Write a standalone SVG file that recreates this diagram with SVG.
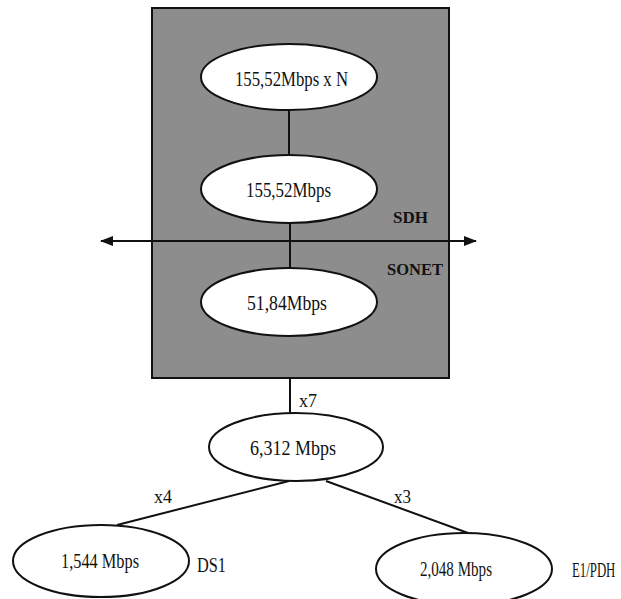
<svg xmlns="http://www.w3.org/2000/svg" width="621" height="599" viewBox="0 0 621 599">
<style>
.n{fill:#fff;stroke:#111;stroke-width:2}
.t{font-family:"Liberation Serif","Times New Roman",serif;font-size:22px;fill:#111}
.s{font-family:"Liberation Serif","Times New Roman",serif;font-size:19px;fill:#111}
.b{font-family:"Liberation Serif","Times New Roman",serif;font-size:17px;font-weight:bold;fill:#111}
.c{stroke:#111;stroke-width:2;fill:none}
</style>
<defs>
<marker id="ah" viewBox="0 0 13 10" refX="12" refY="5" markerWidth="13" markerHeight="10" markerUnits="userSpaceOnUse" orient="auto-start-reverse">
<path d="M0,0 L13,5 L0,10 Z" fill="#111"/>
</marker>
</defs>
<rect id="box" x="152" y="8" width="297" height="370" fill="#8d8d8d" stroke="#111" stroke-width="2"/>
<g id="connectors">
<line class="c" x1="289" y1="110" x2="289" y2="155"/>
<line class="c" x1="290" y1="223" x2="290" y2="268"/>
<line class="c" x1="101" y1="241" x2="476" y2="241" marker-start="url(#ah)" marker-end="url(#ah)"/>
<line class="c" x1="290" y1="378" x2="290" y2="413"/>
<line class="c" x1="289" y1="481" x2="117" y2="525"/>
<line class="c" x1="326" y1="481" x2="468" y2="533"/>
</g>
<g id="n1"><ellipse class="n" cx="289" cy="77" rx="88" ry="33"/><text class="t" x="235" y="86" textLength="113" lengthAdjust="spacingAndGlyphs">155,52Mbps x N</text></g>
<g id="n2"><ellipse class="n" cx="289" cy="189" rx="88" ry="34"/><text class="t" x="246" y="197" textLength="85" lengthAdjust="spacingAndGlyphs">155,52Mbps</text></g>
<g id="n3"><ellipse class="n" cx="289" cy="302" rx="88" ry="34"/><text class="t" x="247" y="310" textLength="80" lengthAdjust="spacingAndGlyphs">51,84Mbps</text></g>
<text class="b" x="393" y="223" textLength="35" lengthAdjust="spacingAndGlyphs">SDH</text>
<text class="b" x="387" y="275" textLength="56" lengthAdjust="spacingAndGlyphs">SONET</text>
<text class="s" x="299" y="407" textLength="18" lengthAdjust="spacingAndGlyphs">x7</text>
<g id="n4"><ellipse class="n" cx="296" cy="447" rx="87" ry="34"/><text class="t" x="250" y="455" textLength="86" lengthAdjust="spacingAndGlyphs">6,312 Mbps</text></g>
<text class="s" x="154" y="503" textLength="18" lengthAdjust="spacingAndGlyphs">x4</text>
<text class="s" x="394" y="503" textLength="17" lengthAdjust="spacingAndGlyphs">x3</text>
<g id="n5"><ellipse class="n" cx="101" cy="561" rx="88" ry="36"/><text class="t" x="61" y="568" textLength="78" lengthAdjust="spacingAndGlyphs">1,544 Mbps</text></g>
<text class="t" x="197" y="572" textLength="29" lengthAdjust="spacingAndGlyphs" style="font-size:20px">DS1</text>
<g id="n6"><ellipse class="n" cx="464" cy="569" rx="88" ry="36"/><text class="t" x="420" y="576" textLength="72" lengthAdjust="spacingAndGlyphs">2,048 Mbps</text></g>
<text class="t" transform="translate(572,577) scale(0.64,1)" x="0" y="0" style="font-size:20px">E1/PDH</text>
</svg>
